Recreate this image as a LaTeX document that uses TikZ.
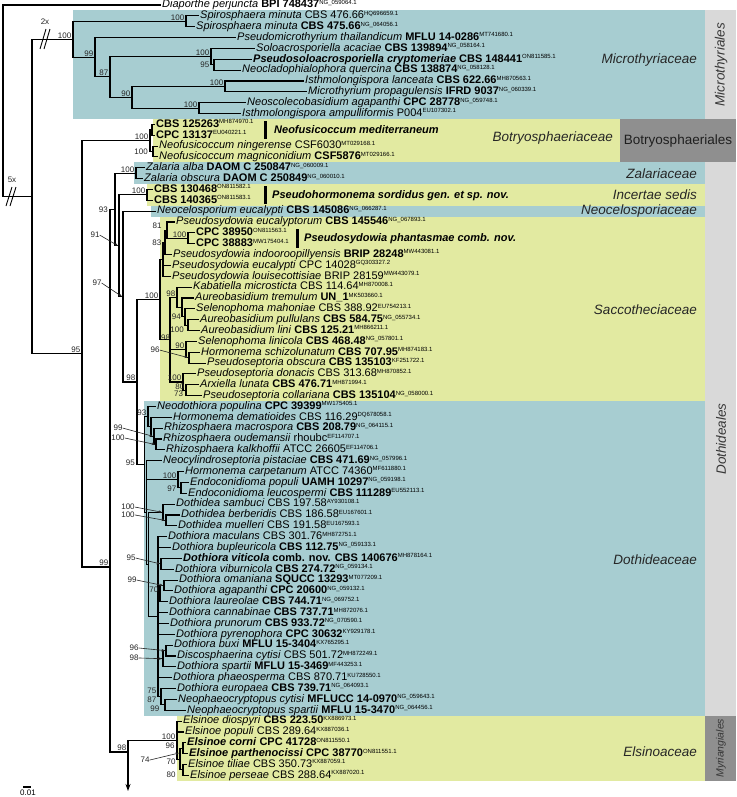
\documentclass[tikz,border=0pt]{standalone}
\usepackage{fontspec}
\setmainfont{Liberation Sans}
\usetikzlibrary{arrows.meta}
\definecolor{bxteal}{HTML}{A7CDD1}
\definecolor{bxyel}{HTML}{E2EAA1}
\definecolor{stripl}{HTML}{D9D9D9}
\definecolor{stripd}{HTML}{8F8F8F}
\definecolor{inkd}{HTML}{262626}
\newcommand\acc[1]{\raisebox{3.4pt}{\fontsize{6}{6}\selectfont #1}}
\newcommand\tHL[2]{\draw[br] (#1 |- #2.west) -- ([xshift=-2pt]#2.west);}
\newcommand\tHI[2]{\draw[br] (#1 |- #2) -- (#2);}
\newcommand\tVV[3]{\draw[br] (#1 |- #2) -- (#1 |- #3);}
\begin{document}
\begin{tikzpicture}[x=1pt,y=-10.85pt,
  br/.style={line width=1.1pt,line cap=rect},
  lf/.style={anchor=west,inner sep=0pt,font=\fontsize{11}{11}\selectfont,text height=7.9pt,text depth=2.3pt},
  bs/.style={inner sep=0pt,font=\fontsize{8}{8}\selectfont,text=inkd},
  bsal/.style={bs,anchor=south east,xshift=-1.5pt,yshift=0.8pt},
  bsa/.style={-{Stealth[length=3.5pt,width=2.6pt]},line width=0.6pt,draw=inkd},
  fam/.style={anchor=east,inner sep=0pt,font=\fontsize{13.5}{13.5}\selectfont\itshape,text=inkd},
  ord/.style={inner sep=0pt,font=\fontsize{13.5}{13.5}\selectfont\itshape,text=black!78},
  spl/.style={anchor=west,inner sep=0pt,font=\fontsize{11}{11}\selectfont\bfseries\itshape},
  brk/.style={line width=0.9pt}]
\fill[white] (0,-0.4608) rectangle (736,72.995);
\useasboundingbox (0,-0.4608) rectangle (736,72.995);
% ---------- background boxes
\fill[bxteal] (73,0.5) rectangle (705,10.5);
\fill[stripl] (705,0.5) rectangle (736,10.5);
\fill[bxyel] (153,10.5) rectangle (620,14.5);
\fill[stripd] (620,10.5) rectangle (736,14.5);
\fill[bxteal] (134,14.5) rectangle (705,16.5);
\fill[bxyel] (147,16.5) rectangle (705,18.5);
\fill[bxteal] (151,18.5) rectangle (705,19.5);
\fill[bxyel] (160,19.5) rectangle (705,36.5);
\fill[bxteal] (144,36.5) rectangle (705,65.5);
\fill[bxyel] (177,65.5) rectangle (705,71.5);
\fill[stripl] (705,14.5) rectangle (736,65.5);
\fill[stripd] (705,65.5) rectangle (736,71.5);
% ---------- group labels
\node[fam] (fMic) at (697,5.1) {Microthyriaceae};
\node[fam] (fBot) at (613,12.26) {Botryosphaeriaceae};
\node[fam] (fZal) at (697,15.5) {Zalariaceae};
\node[fam] (fInc) at (697,17.5) {Incertae sedis};
\node[fam] (fNeo) at (697,19) {Neocelosporiaceae};
\node[fam] (fSac) at (697,28.1) {Saccotheciaceae};
\node[fam] (fDot) at (697,51.15) {Dothideaceae};
\node[fam] (fEls) at (697,68.85) {Elsinoaceae};
\node[ord,rotate=90] (oMic) at (721,5.5) {Microthyriales};
\node[ord,font=\fontsize{13.5}{13.5}\selectfont,text=black!88] (oBot) at (678,12.5) {Botryosphaeriales};
\node[ord,rotate=90] (oDot) at (721,40) {Dothideales};
\node[ord,rotate=90,font=\fontsize{10.5}{10.5}\selectfont\itshape] (oMyr) at (721,68.5) {Myriangiales};
% ---------- leaves
\node[lf] (t0) at (162,0) {\textit{Diaporthe perjuncta} \textbf{BPI 748437}\acc{NG\_059064.1}};
\node[lf] (t1) at (200,1) {\textit{Spirosphaera minuta} CBS 476.66\acc{HQ696659.1}};
\node[lf] (t2) at (196,2) {\textit{Spirosphaera minuta} \textbf{CBS 475.66}\acc{NG\_064056.1}};
\node[lf] (t3) at (237,3) {\textit{Pseudomicrothyrium thailandicum} \textbf{MFLU 14-0286}\acc{MT741680.1}};
\node[lf] (t4) at (256,4) {\textit{Soloacrosporiella acaciae} \textbf{CBS 139894}\acc{NG\_058164.1}};
\node[lf] (t5) at (253,5) {\textbf{\textit{Pseudosoloacrosporiella cryptomeriae} CBS 148441}\acc{ON811585.1}};
\node[lf] (t6) at (242,6) {\textit{Neocladophialophora quercina} \textbf{CBS 138874}\acc{NG\_058128.1}};
\node[lf] (t7) at (305,7) {\textit{Isthmolongispora lanceata} \textbf{CBS 622.66}\acc{MH870563.1}};
\node[lf] (t8) at (308,8) {\textit{Microthyrium propagulensis} \textbf{IFRD 9037}\acc{NG\_060339.1}};
\node[lf] (t9) at (247,9) {\textit{Neoscolecobasidium agapanthi} \textbf{CPC 28778}\acc{NG\_059748.1}};
\node[lf] (t10) at (242,10) {\textit{Isthmolongispora ampulliformis} P004\acc{EU107302.1}};
\node[lf] (t11) at (156,11) {\textbf{CBS 125263}\acc{MH874970.1}};
\node[lf] (t12) at (156,12) {\textbf{CPC 13137}\acc{EU040221.1}};
\node[lf] (t13) at (159,13) {\textit{Neofusicoccum ningerense} CSF6030\acc{MT029168.1}};
\node[lf] (t14) at (159,14) {\textit{Neofusicoccum magniconidium} \textbf{CSF5876}\acc{MT029166.1}};
\node[lf] (t15) at (146,15) {\textit{Zalaria alba} \textbf{DAOM C 250847}\acc{NG\_060009.1}};
\node[lf] (t16) at (144,16) {\textit{Zalaria obscura} \textbf{DAOM C 250849}\acc{NG\_060010.1}};
\node[lf] (t17) at (154,17) {\textbf{CBS 130468}\acc{ON811582.1}};
\node[lf] (t18) at (154,18) {\textbf{CBS 140365}\acc{ON811583.1}};
\node[lf] (t19) at (157,19) {\textit{Neocelosporium eucalypti} \textbf{CBS 145086}\acc{NG\_066287.1}};
\node[lf] (t20) at (176,20) {\textit{Pseudosydowia eucalyptorum} \textbf{CBS 145546}\acc{NG\_067893.1}};
\node[lf] (t21) at (196,21) {\textbf{CPC 38950}\acc{ON811563.1}};
\node[lf] (t22) at (196,22) {\textbf{CPC 38883}\acc{MW175404.1}};
\node[lf] (t23) at (173,23) {\textit{Pseudosydowia indooroopillyensis} \textbf{BRIP 28248}\acc{MW443081.1}};
\node[lf] (t24) at (172,24) {\textit{Pseudosydowia eucalypti} CPC 14028\acc{GQ303327.2}};
\node[lf] (t25) at (172,25) {\textit{Pseudosydowia louisecottisiae} BRIP 28159\acc{MW443079.1}};
\node[lf] (t26) at (193,26) {\textit{Kabatiella microsticta} CBS 114.64\acc{MH870008.1}};
\node[lf] (t27) at (195,27) {\textit{Aureobasidium tremulum} \textbf{UN\_1}\acc{MK503660.1}};
\node[lf] (t28) at (196,28) {\textit{Selenophoma mahoniae} CBS 388.92\acc{EU754213.1}};
\node[lf] (t29) at (200,29) {\textit{Aureobasidium pullulans} \textbf{CBS 584.75}\acc{NG\_055734.1}};
\node[lf] (t30) at (201,30) {\textit{Aureobasidium lini} \textbf{CBS 125.21}\acc{MH866211.1}};
\node[lf] (t31) at (198,31) {\textit{Selenophoma linicola} \textbf{CBS 468.48}\acc{NG\_057801.1}};
\node[lf] (t32) at (201,32) {\textit{Hormonema schizolunatum} \textbf{CBS 707.95}\acc{MH874183.1}};
\node[lf] (t33) at (207,33) {\textit{Pseudoseptoria obscura} \textbf{CBS 135103}\acc{KF251722.1}};
\node[lf] (t34) at (197,34) {\textit{Pseudoseptoria donacis} CBS 313.68\acc{MH870852.1}};
\node[lf] (t35) at (200,35) {\textit{Arxiella lunata} \textbf{CBS 476.71}\acc{MH871994.1}};
\node[lf] (t36) at (203,36) {\textit{Pseudoseptoria collariana} \textbf{CBS 135104}\acc{NG\_058000.1}};
\node[lf] (t37) at (157,37) {\textit{Neodothiora populina} \textbf{CPC 39399}\acc{MW175405.1}};
\node[lf] (t38) at (173,38) {\textit{Hormonema dematioides} CBS 116.29\acc{DQ678058.1}};
\node[lf] (t39) at (164,39) {\textit{Rhizosphaera macrospora} \textbf{CBS 208.79}\acc{NG\_064115.1}};
\node[lf] (t40) at (163,40) {\textit{Rhizosphaera oudemansii} rhoubc\acc{EF114707.1}};
\node[lf] (t41) at (166,41) {\textit{Rhizosphaera kalkhoffii} ATCC 26605\acc{EF114706.1}};
\node[lf] (t42) at (163,42) {\textit{Neocylindroseptoria pistaciae} \textbf{CBS 471.69}\acc{NG\_057996.1}};
\node[lf] (t43) at (185,43) {\textit{Hormonema carpetanum} ATCC 74360\acc{MF611880.1}};
\node[lf] (t44) at (190,44) {\textit{Endoconidioma populi} \textbf{UAMH 10297}\acc{NG\_059198.1}};
\node[lf] (t45) at (188,45) {\textit{Endoconidioma leucospermi} \textbf{CBS 111289}\acc{EU552113.1}};
\node[lf] (t46) at (176,46) {\textit{Dothidea sambuci} CBS 197.58\acc{AY930108.1}};
\node[lf] (t47) at (181,47) {\textit{Dothidea berberidis} CBS 186.58\acc{EU167601.1}};
\node[lf] (t48) at (178,48) {\textit{Dothidea muelleri} CBS 191.58\acc{EU167593.1}};
\node[lf] (t49) at (168,49) {\textit{Dothiora maculans} CBS 301.76\acc{MH872751.1}};
\node[lf] (t50) at (172,50) {\textit{Dothiora bupleuricola} \textbf{CBS 112.75}\acc{NG\_059133.1}};
\node[lf] (t51) at (183,51) {\textbf{\textit{Dothiora viticola} comb. nov. CBS 140676}\acc{MH878164.1}};
\node[lf] (t52) at (175,52) {\textit{Dothiora viburnicola} \textbf{CBS 274.72}\acc{NG\_059134.1}};
\node[lf] (t53) at (179,53) {\textit{Dothiora omaniana} \textbf{SQUCC 13293}\acc{MT077209.1}};
\node[lf] (t54) at (174,54) {\textit{Dothiora agapanthi} \textbf{CPC 20600}\acc{NG\_059132.1}};
\node[lf] (t55) at (169,55) {\textit{Dothiora laureolae} \textbf{CBS 744.71}\acc{NG\_069752.1}};
\node[lf] (t56) at (169,56) {\textit{Dothiora cannabinae} \textbf{CBS 737.71}\acc{MH872076.1}};
\node[lf] (t57) at (170,57) {\textit{Dothiora prunorum} \textbf{CBS 933.72}\acc{NG\_070590.1}};
\node[lf] (t58) at (176,58) {\textit{Dothiora pyrenophora} \textbf{CPC 30632}\acc{KY929178.1}};
\node[lf] (t59) at (174,59) {\textit{Dothiora buxi} \textbf{MFLU 15-3404}\acc{KX765295.1}};
\node[lf] (t60) at (177,60) {\textit{Discosphaerina cytisi} CBS 501.72\acc{MH872249.1}};
\node[lf] (t61) at (177,61) {\textit{Dothiora spartii} \textbf{MFLU 15-3469}\acc{MF443253.1}};
\node[lf] (t62) at (173,62) {\textit{Dothiora phaeosperma} CBS 870.71\acc{KU728550.1}};
\node[lf] (t63) at (177,63) {\textit{Dothiora europaea} \textbf{CBS 739.71}\acc{NG\_064093.1}};
\node[lf] (t64) at (178,64) {\textit{Neophaeocryptopus cytisi} \textbf{MFLUCC 14-0970}\acc{NG\_059643.1}};
\node[lf] (t65) at (187,65) {\textit{Neophaeocryptopus spartii} \textbf{MFLU 15-3470}\acc{NG\_064456.1}};
\node[lf] (t66) at (183,66) {\textit{Elsinoe diospyri} \textbf{CBS 223.50}\acc{KX886973.1}};
\node[lf] (t67) at (185,67) {\textit{Elsinoe populi} CBS 289.64\acc{KX887036.1}};
\node[lf] (t68) at (187,68) {\textbf{\textit{Elsinoe corni} CPC 41728}\acc{ON811550.1}};
\node[lf] (t69) at (189,69) {\textbf{\textit{Elsinoe parthenocissi} CPC 38770}\acc{ON811551.1}};
\node[lf] (t70) at (188,70) {\textit{Elsinoe tiliae} CBS 350.73\acc{KX887059.1}};
\node[lf] (t71) at (190,71) {\textit{Elsinoe perseae} CBS 288.64\acc{KX887020.1}};
% ---------- species bars
\fill (263.5,10.65) rectangle (266.5,12.35);
\node[spl] (sNm) at (274,11.5) {Neofusicoccum mediterraneum};
\fill (263.5,16.65) rectangle (266.5,18.35);
\node[spl] (sPs) at (272,17.55) {Pseudohormonema sordidus gen. et sp. nov.};
\fill (295.5,20.65) rectangle (298.5,22.35);
\node[spl] (sPp) at (304,21.5) {Pseudosydowia phantasmae comb. nov.};
% ---------- internal nodes
\coordinate (RT) at (3,0);
\coordinate (IG) at (32,17.65);
\coordinate (M0) at (73,3.156);
\coordinate (SP) at (186,1.5);
\coordinate (N99) at (95,4.8125);
\coordinate (N87) at (110,6.625);
\coordinate (NSolo) at (211,4.75);
\coordinate (N95) at (214,5.5);
\coordinate (N90) at (132,8.5);
\coordinate (NIsth) at (225,7.5);
\coordinate (NNeo) at (199,9.5);
\coordinate (ND95) at (82,32.15);
\coordinate (B0) at (150,12.5);
\coordinate (BA) at (152,11.5);
\coordinate (BB) at (153,13.5);
\coordinate (ND99) at (110,51.8);
\coordinate (ND91) at (115,18.84);
\coordinate (Z) at (136,15.5);
\coordinate (IS) at (147,17.5);
\coordinate (Na) at (119,22.19);
\coordinate (Nb) at (123,26.875);
\coordinate (Nc) at (137,34.75);
\coordinate (S0) at (160,27.14);
\coordinate (PSX) at (163,23.4375);
\coordinate (PS83) at (165,21.875);
\coordinate (PS81) at (167,20.75);
\coordinate (PSC) at (188,21.5);
\coordinate (SR) at (170,30.85);
\coordinate (SA) at (177,26.94);
\coordinate (SA2) at (182,27.875);
\coordinate (SA3) at (185,28.75);
\coordinate (SA4) at (188,29.5);
\coordinate (SB1) at (186,31.75);
\coordinate (SB1b) at (189,32.5);
\coordinate (SB2) at (183,34.75);
\coordinate (SB2b) at (186,35.5);
\coordinate (D0) at (144.5,42.36);
\coordinate (DA) at (148,37.94);
\coordinate (DA2) at (151,38.875);
\coordinate (DA3) at (154,39.75);
\coordinate (DA4) at (156,40.5);
\coordinate (DB) at (146.3,46.78);
\coordinate (DC1) at (178,43.75);
\coordinate (DC1b) at (181,44.5);
\coordinate (DC2) at (148.2,51.56);
\coordinate (DD) at (163,46.75);
\coordinate (DD2) at (166,47.5);
\coordinate (DE) at (158,56.375);
\coordinate (Nvit) at (161,51.5);
\coordinate (N70) at (160,54.25);
\coordinate (N99om) at (164,53.5);
\coordinate (N98b) at (163,60.25);
\coordinate (N96) at (166,59.5);
\coordinate (N75) at (161,63.75);
\coordinate (N87b) at (165,64.5);
\coordinate (ND98) at (128,68.85);
\coordinate (AR) at (128,72.44);
\coordinate (E0) at (177,67.75);
\coordinate (E1) at (180,69.5);
\coordinate (E2) at (183,68.5);
\coordinate (E3) at (183,70.5);
% ---------- branches
\tVV{RT}{t0.west}{IG} \tHL{RT}{t0} \tHI{RT}{IG}
\tVV{IG}{M0}{ND95} \tHI{IG}{M0} \tHI{IG}{ND95}
\tVV{M0}{SP}{N99} \tHI{M0}{SP} \tHI{M0}{N99}
\tVV{SP}{t1.west}{t2.west} \tHL{SP}{t1} \tHL{SP}{t2}
\tVV{N99}{t3.west}{N87} \tHL{N99}{t3} \tHI{N99}{N87}
\tVV{N87}{NSolo}{N90} \tHI{N87}{NSolo} \tHI{N87}{N90}
\tVV{NSolo}{t4.west}{N95} \tHL{NSolo}{t4} \tHI{NSolo}{N95}
\tVV{N95}{t5.west}{t6.west} \tHL{N95}{t5} \tHL{N95}{t6}
\tVV{N90}{NIsth}{NNeo} \tHI{N90}{NIsth} \tHI{N90}{NNeo}
\tVV{NIsth}{t7.west}{t8.west} \tHL{NIsth}{t7} \tHL{NIsth}{t8}
\tVV{NNeo}{t9.west}{t10.west} \tHL{NNeo}{t9} \tHL{NNeo}{t10}
\tVV{ND95}{B0}{ND99} \tHI{ND95}{B0} \tHI{ND95}{ND99}
\tVV{B0}{BA}{BB} \tHI{B0}{BA} \tHI{B0}{BB}
\tVV{BA}{t11.west}{t12.west} \tHL{BA}{t11} \tHL{BA}{t12}
\tVV{BB}{t13.west}{t14.west} \tHL{BB}{t13} \tHL{BB}{t14}
\tVV{ND99}{ND91}{ND98} \tHI{ND99}{ND91} \tHI{ND99}{ND98}
\tVV{ND91}{Z}{Na} \tHI{ND91}{Z} \tHI{ND91}{Na}
\tVV{Z}{t15.west}{t16.west} \tHL{Z}{t15} \tHL{Z}{t16}
\tVV{Na}{IS}{Nb} \tHI{Na}{IS} \tHI{Na}{Nb}
\tVV{IS}{t17.west}{t18.west} \tHL{IS}{t17} \tHL{IS}{t18}
\tVV{Nb}{t19.west}{Nc} \tHL{Nb}{t19} \tHI{Nb}{Nc}
\tVV{Nc}{S0}{D0} \tHI{Nc}{S0} \tHI{Nc}{D0}
\tVV{S0}{PSX}{SR} \tHI{S0}{PSX} \tHI{S0}{SR}
\tVV{PSX}{PS83}{t25.west} \tHI{PSX}{PS83} \tHL{PSX}{t24} \tHL{PSX}{t25}
\tVV{PS83}{PS81}{t23.west} \tHI{PS83}{PS81} \tHL{PS83}{t23}
\tVV{PS81}{t20.west}{PSC} \tHL{PS81}{t20} \tHI{PS81}{PSC}
\tVV{PSC}{t21.west}{t22.west} \tHL{PSC}{t21} \tHL{PSC}{t22}
\tVV{SR}{SA}{SB2} \tHI{SR}{SA} \tHI{SR}{SB1} \tHI{SR}{SB2}
\tVV{SA}{t26.west}{SA2} \tHL{SA}{t26} \tHI{SA}{SA2}
\tVV{SA2}{t27.west}{SA3} \tHL{SA2}{t27} \tHI{SA2}{SA3}
\tVV{SA3}{t28.west}{SA4} \tHL{SA3}{t28} \tHI{SA3}{SA4}
\tVV{SA4}{t29.west}{t30.west} \tHL{SA4}{t29} \tHL{SA4}{t30}
\tVV{SB1}{t31.west}{SB1b} \tHL{SB1}{t31} \tHI{SB1}{SB1b}
\tVV{SB1b}{t32.west}{t33.west} \tHL{SB1b}{t32} \tHL{SB1b}{t33}
\tVV{SB2}{t34.west}{SB2b} \tHL{SB2}{t34} \tHI{SB2}{SB2b}
\tVV{SB2b}{t35.west}{t36.west} \tHL{SB2b}{t35} \tHL{SB2b}{t36}
\tVV{D0}{DA}{DB} \tHI{D0}{DA} \tHI{D0}{DB}
\tVV{DA}{t37.west}{DA2} \tHL{DA}{t37} \tHI{DA}{DA2}
\tVV{DA2}{t38.west}{DA3} \tHL{DA2}{t38} \tHI{DA2}{DA3}
\tVV{DA3}{t39.west}{DA4} \tHL{DA3}{t39} \tHI{DA3}{DA4}
\tVV{DA4}{t40.west}{t41.west} \tHL{DA4}{t40} \tHL{DA4}{t41}
\tVV{DB}{t42.west}{DC2} \tHL{DB}{t42} \tHI{DB}{DC1} \tHI{DB}{DC2}
\tVV{DC1}{t43.west}{DC1b} \tHL{DC1}{t43} \tHI{DC1}{DC1b}
\tVV{DC1b}{t44.west}{t45.west} \tHL{DC1b}{t44} \tHL{DC1b}{t45}
\tVV{DC2}{DD}{DE} \tHI{DC2}{DD} \tHI{DC2}{DE}
\tVV{DD}{t46.west}{DD2} \tHL{DD}{t46} \tHI{DD}{DD2}
\tVV{DD2}{t47.west}{t48.west} \tHL{DD2}{t47} \tHL{DD2}{t48}
\tVV{DE}{t49.west}{N75} \tHL{DE}{t49} \tHL{DE}{t50} \tHI{DE}{Nvit} \tHI{DE}{N70}
\tHL{DE}{t56} \tHL{DE}{t57} \tHL{DE}{t58} \tHI{DE}{N98b} \tHL{DE}{t62} \tHI{DE}{N75}
\tVV{Nvit}{t51.west}{t52.west} \tHL{Nvit}{t51} \tHL{Nvit}{t52}
\tVV{N70}{N99om}{t55.west} \tHI{N70}{N99om} \tHL{N70}{t55}
\tVV{N99om}{t53.west}{t54.west} \tHL{N99om}{t53} \tHL{N99om}{t54}
\tVV{N98b}{N96}{t61.west} \tHI{N98b}{N96} \tHL{N98b}{t61}
\tVV{N96}{t59.west}{t60.west} \tHL{N96}{t59} \tHL{N96}{t60}
\tVV{N75}{t63.west}{N87b} \tHL{N75}{t63} \tHI{N75}{N87b}
\tVV{N87b}{t64.west}{t65.west} \tHL{N87b}{t64} \tHL{N87b}{t65}
\tHI{ND98}{E0}
\draw[br,-{Stealth[length=7pt,width=5pt]}] (ND98 |- E0) -- (AR);
\tVV{E0}{t66.west}{E1} \tHL{E0}{t66} \tHL{E0}{t67} \tHI{E0}{E1}
\tVV{E1}{E2}{E3} \tHI{E1}{E2} \tHI{E1}{E3}
\tVV{E2}{t68.west}{t69.west} \tHL{E2}{t68} \tHL{E2}{t69}
\tVV{E3}{t70.west}{t71.west} \tHL{E3}{t70} \tHL{E3}{t71}
% ---------- break marks
\node[bs] (x2) at (45,1.567) {2x};
\draw[brk] (40,4.055) -- (46,2.212);
\draw[brk] (44,4.055) -- (50,2.212);
\node[bs] (x5) at (12,16.13) {5x};
\draw[brk] (6,18.525) -- (12,16.774);
\draw[brk] (10,18.525) -- (16,16.774);
% ---------- support values
\node[bsal] (bSP) at (SP) {100};
\node[bsal] (bM0) at (M0) {100};
\node[bsal] (bN99) at (N99) {99};
\node[bsal] (bN87) at (N87) {87};
\node[bsal] (bNSolo) at (NSolo) {100};
\node[bs,anchor=east] (bN95) at (209.5,5.5) {95};
\node[bsal] (bN90) at (N90) {90};
\node[bsal] (bNIsth) at (NIsth) {100};
\node[bsal] (bNNeo) at (NNeo) {100};
\node[bsal] (bND95) at (ND95) {95};
\node[bsal] (bB0) at (B0) {100};
\node[bs,anchor=east] (bBB) at (148,13.55) {100};
\node[bsal] (bZ) at (Z) {100};
\node[bsal] (bIS) at (IS) {100};
\node[bs,anchor=east] (bND91) at (108,18.9) {93};
\node[bs] (bNa) at (95,21.2) {91};
\draw[bsa] (bNa.east) -- ([xshift=-1pt]Na);
\node[bs] (bNb) at (97,25.62) {97};
\draw[bsa] (bNb.east) -- ([xshift=-1pt]Nb);
\node[bsal] (bNc) at (Nc) {98};
\node[bsal] (bS0) at (S0) {100};
\node[bs] (bPS81) at (157,20.37) {81};
\node[bs,anchor=east] (bPS83) at (161.5,21.875) {83};
\node[bsal] (bPSC) at (PSC) {100};
\node[bsal] (bSA) at (SA) {98};
\node[bs,anchor=east] (bSA3) at (181,28.75) {94};
\node[bs,anchor=north east] (bSA4) at (184,29.62) {100};
\node[bs] (bSR) at (165.5,30.69) {98};
\node[bsal] (bSB1) at (SB1) {90};
\node[bs] (bSB1b) at (155,31.8) {96};
\draw[bsa] (bSB1b.east) -- ([xshift=-1pt]SB1b);
\node[bsal] (bSB2) at (SB2) {100};
\node[bsal] (bSB2b) at (SB2b) {80};
\node[bs] (bS73) at (178.5,35.84) {73};
\node[bsal] (bDA) at (DA) {93};
\node[bs] (bDA3) at (118,38.99) {99};
\draw[bsa] (bDA3.east) -- ([xshift=-1pt]DA3);
\node[bs] (bDA4) at (118,39.91) {100};
\draw[bsa] (bDA4.east) -- ([xshift=-1pt]DA4);
\node[bs,anchor=east] (bD0) at (135,42.2) {95};
\node[bsal] (bDC1) at (DC1) {100};
\node[bs,anchor=east] (bDC1b) at (176.5,44.6) {97};
\node[bs] (bDD) at (128,46.27) {100};
\draw[bsa] (bDD.east) -- ([xshift=-1pt]DD);
\node[bs] (bDD2) at (128,47.0) {100};
\draw[bsa] (bDD2.east) -- ([xshift=-1pt]DD2);
\node[bs] (bNvit) at (131,50.97) {95};
\draw[bsa] (bNvit.east) -- ([xshift=-1pt]Nvit);
\node[bs] (bN99om) at (132,53.0) {99};
\draw[bsa] (bN99om.east) -- ([xshift=-1pt]N99om);
\node[bsal] (bN70) at (N70) {70};
\node[bs] (bN96) at (134,59.26) {96};
\draw[bsa] (bN96.east) -- ([xshift=-1pt]N96);
\node[bs] (bN98b) at (134,60.18) {98};
\draw[bsa] (bN98b.east) -- ([xshift=-1pt]N98b);
\node[bs,anchor=east] (bN75) at (156.5,63.23) {75};
\node[bs,anchor=east] (bN87b) at (156.5,64.06) {87};
\node[bs,anchor=east] (bN99n) at (159.5,64.85) {99};
\node[bsal] (bND99) at (ND99) {99};
\node[bsal] (bND98) at (ND98) {98};
\node[bsal] (bE0) at (E0) {100};
\node[bs] (bE2) at (170,68.3) {96};
\node[bs] (bE1) at (145,69.59) {74};
\draw[bsa] (bE1.east) -- ([xshift=-1pt]E1 |- 0,68.94);
\node[bs] (bE3) at (171,69.77) {70};
\node[bs] (bE4) at (171,70.97) {80};
% ---------- scale bar
\draw[line width=1.2pt] (23,72.07) coordinate (sb1) -- (31,72.07) coordinate (sb2);
\node[bs,text=black] (sbl) at (28,72.63) {0.01};
\end{tikzpicture}
\end{document}
